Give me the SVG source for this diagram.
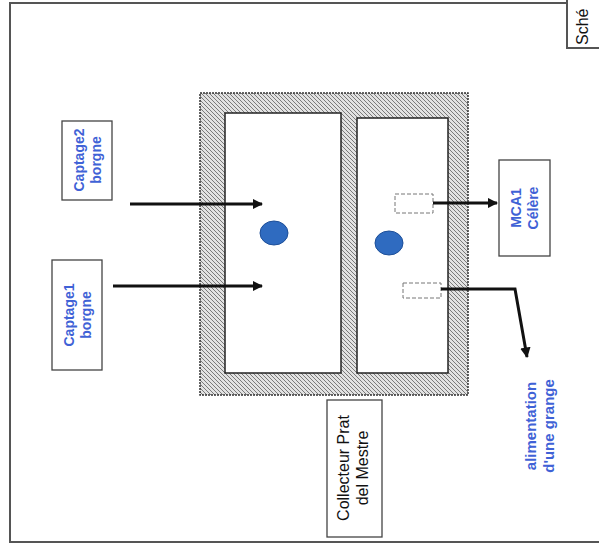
<svg xmlns="http://www.w3.org/2000/svg" width="599" height="546" viewBox="0 0 599 546">
<style>
.frame{fill:none;stroke:#555;stroke-width:2}
.box{fill:#fff;stroke:#444;stroke-width:1.3}
.blue{font-family:"Liberation Sans",Arial,sans-serif;font-size:14px;font-weight:bold;fill:#3f62d6;text-anchor:middle}
.blk{font-family:"Liberation Sans",Arial,sans-serif;font-size:16px;fill:#111;text-anchor:middle}
.chamber{fill:#fff;stroke:#222;stroke-width:1.5}
.valve{fill:#fff;stroke:#777;stroke-width:1;stroke-dasharray:4 2}
.arrow{fill:none;stroke:#111;stroke-width:3}
.drop{fill:#2f6bc0;stroke:#1d4f99;stroke-width:1}
</style>
<defs>
<pattern id="hatch" width="4" height="4" patternUnits="userSpaceOnUse">
<rect width="4" height="4" fill="#e2e2e2"/>
<path d="M-1,-1 L5,5 M-1,3 L1,5 M3,-1 L5,1" stroke="#7a7a7a" stroke-width="1"/>
</pattern>
<marker id="ah" viewBox="0 0 10 10" refX="9" refY="5" markerWidth="3.5" markerHeight="3.5" orient="auto" markerUnits="strokeWidth">
<path d="M0,0 L10,5 L0,10 z" fill="#111"/>
</marker>
</defs>
<rect width="599" height="546" fill="#fff"/>
<g id="frame">
<path class="frame" d="M567,3 L10,3 L10,542 L599,542"/>
</g>
<g id="title">
<path class="frame" d="M567,0 L567,48 L599,48" stroke-width="1.5"/>
<text class="blk" transform="translate(588,45) rotate(-90)" font-size="13" text-anchor="start" style="text-anchor:start">Sché</text>
</g>
<g id="collecteur">
<rect x="200" y="93" width="268" height="302" fill="url(#hatch)" stroke="#333" stroke-width="1.5" stroke-dasharray="2 1"/>
<rect class="chamber" x="225" y="113" width="116" height="260"/>
<rect class="chamber" x="357" y="118" width="91" height="255"/>
<ellipse class="drop" cx="274" cy="233" rx="14" ry="12"/>
<ellipse class="drop" cx="389" cy="243" rx="14" ry="12"/>
<rect class="valve" x="395" y="194" width="38" height="19"/>
<rect class="valve" x="403" y="283" width="38" height="15"/>
</g>
<g id="captage2">
<rect class="box" x="62" y="121" width="50" height="79"/>
<text class="blue" transform="translate(87,160) rotate(-90)"><tspan x="0" y="-3">Captage2</tspan><tspan x="0" y="14">borgne</tspan></text>
</g>
<g id="captage1">
<rect class="box" x="52" y="260" width="50" height="110"/>
<text class="blue" transform="translate(77,315) rotate(-90)"><tspan x="0" y="-3">Captage1</tspan><tspan x="0" y="14">borgne</tspan></text>
</g>
<g id="mca1">
<rect class="box" x="499" y="160" width="51" height="96"/>
<text class="blue" transform="translate(524,208) rotate(-90)"><tspan x="0" y="-3">MCA1</tspan><tspan x="0" y="14">Célère</tspan></text>
</g>
<g id="label-collecteur">
<rect class="box" x="327" y="400" width="55" height="137"/>
<text class="blk" transform="translate(354,468) rotate(-90)"><tspan x="0" y="-5">Collecteur  Prat</tspan><tspan x="0" y="14">del Mestre</tspan></text>
</g>
<g id="alimentation">
<text class="blue" font-size="15" style="font-size:15px" transform="translate(539,426) rotate(-90)"><tspan x="0" y="-3">alimentation</tspan><tspan x="0" y="15">d'une grange</tspan></text>
</g>
<g id="connectors">
<path class="arrow" d="M130,204 L262,204" marker-end="url(#ah)"/>
<path class="arrow" d="M113,286 L262,286" marker-end="url(#ah)"/>
<path class="arrow" d="M433,203 L497,203" marker-end="url(#ah)"/>
<path class="arrow" d="M441,289 L515,289 L527,357" marker-end="url(#ah)"/>
</g>
</svg>
